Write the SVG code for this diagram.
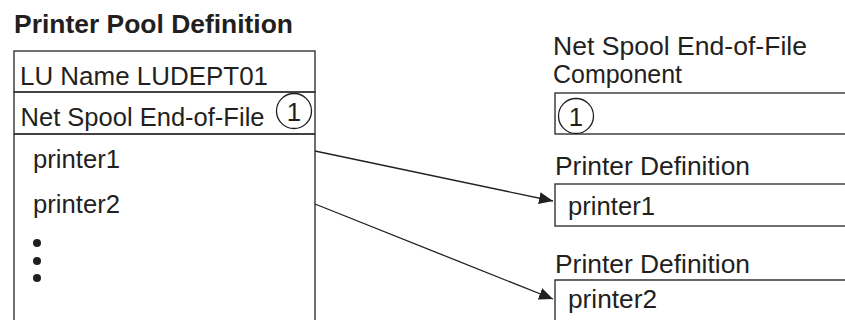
<svg xmlns="http://www.w3.org/2000/svg" width="845" height="320" viewBox="0 0 845 320">
<style>
text{font-family:"Liberation Sans",Arial,sans-serif;font-size:25.7px;fill:#231f20}
.b{font-weight:bold;font-size:26px}
.box{fill:none;stroke:#333;stroke-width:1.4}
.ln{fill:none;stroke:#231f20;stroke-width:1.3}
.dot{fill:#231f20}
</style>
<defs>
<marker id="ah" viewBox="0 0 14 12" refX="14" refY="6" markerWidth="14" markerHeight="12" markerUnits="userSpaceOnUse" orient="auto">
<path d="M0,0 L14,6 L0,12 Z" fill="#231f20"/>
</marker>
</defs>
<g id="title"><text class="b" x="14" y="33" textLength="279" lengthAdjust="spacingAndGlyphs">Printer Pool Definition</text></g>
<g id="pool">
<rect class="box" x="14" y="51" width="301" height="41"/>
<text x="20" y="85" textLength="248" lengthAdjust="spacingAndGlyphs">LU Name LUDEPT01</text>
<rect class="box" x="14" y="92" width="301" height="42"/>
<text x="20.5" y="126" textLength="244" lengthAdjust="spacingAndGlyphs">Net Spool End-of-File</text>
<circle class="ln" cx="294" cy="111" r="17.5"/>
<text x="294" y="120.5" text-anchor="middle">1</text>
<path class="box" d="M14,134 H315 M14,134 V322 M315,134 V322"/>
<text x="33" y="168" textLength="87" lengthAdjust="spacingAndGlyphs">printer1</text>
<text x="33" y="213" textLength="87" lengthAdjust="spacingAndGlyphs">printer2</text>
<circle class="dot" cx="37" cy="243" r="4"/>
<circle class="dot" cx="37" cy="261" r="4"/>
<circle class="dot" cx="37" cy="278" r="4"/>
</g>
<g id="eof">
<text x="553" y="55" textLength="254" lengthAdjust="spacingAndGlyphs">Net Spool End-of-File</text>
<text x="553" y="83" textLength="129" lengthAdjust="spacingAndGlyphs">Component</text>
<rect class="box" x="555" y="93" width="300" height="41"/>
<circle class="ln" cx="576" cy="116" r="17.5"/>
<text x="576" y="125.5" text-anchor="middle">1</text>
</g>
<g id="pd1">
<text x="555" y="175" textLength="195" lengthAdjust="spacingAndGlyphs">Printer Definition</text>
<rect class="box" x="555" y="184" width="300" height="42"/>
<text x="568" y="215" textLength="87" lengthAdjust="spacingAndGlyphs">printer1</text>
</g>
<g id="pd2">
<text x="555" y="273" textLength="195" lengthAdjust="spacingAndGlyphs">Printer Definition</text>
<path class="box" d="M555,322 V280 H850"/>
<text x="568" y="308" textLength="89" lengthAdjust="spacingAndGlyphs">printer2</text>
</g>
<g id="connectors">
<line class="ln" x1="315" y1="151" x2="553" y2="201" marker-end="url(#ah)"/>
<line class="ln" x1="315" y1="204" x2="553" y2="299" marker-end="url(#ah)"/>
</g>
</svg>
